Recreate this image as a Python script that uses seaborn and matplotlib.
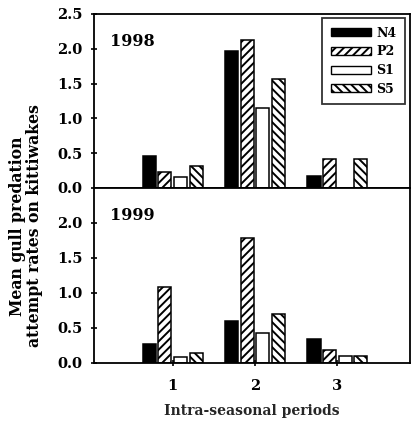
import numpy as np
import matplotlib
matplotlib.use('Agg')
import matplotlib.pyplot as plt
import matplotlib.patches as mpatches
import pandas as pd
import seaborn as sns

# values
periods = ['1', '2', '3']
colonies = ['N4', 'P2', 'S1', 'S5']
rates_1998 = {'N4': [0.46, 1.97, 0.17],
              'P2': [0.23, 2.12, 0.42],
              'S1': [0.16, 1.15, 0.0],
              'S5': [0.32, 1.56, 0.42]}
rates_1999 = {'N4': [0.27, 0.60, 0.34],
              'P2': [1.09, 1.79, 0.19],
              'S1': [0.09, 0.43, 0.10],
              'S5': [0.14, 0.70, 0.10]}
years = ['1998', '1999']

styles = {'N4': ('black', ''), 'P2': ('white', '////'),
          'S1': ('white', ''), 'S5': ('white', '\\\\\\\\')}

sns.set_style('ticks')
plt.rcParams['font.family'] = ['DejaVu Serif']
plt.rcParams['font.weight'] = 'bold'
plt.rcParams['text.color'] = 'black'
plt.rcParams['xtick.color'] = 'black'
plt.rcParams['ytick.color'] = 'black'
plt.rcParams['axes.edgecolor'] = 'black'
plt.rcParams['hatch.linewidth'] = 1.4
plt.rcParams['axes.linewidth'] = 1.3

fig = plt.figure(figsize=(4.12, 4.24), dpi=100)
ax1 = fig.add_axes([0.229, 0.557, 0.766, 0.410])
ax2 = fig.add_axes([0.229, 0.144, 0.766, 0.413])


def draw(ax, rates, year):
    df = pd.DataFrame([(p, c, rates[c][i]) for c in colonies
                       for i, p in enumerate(periods)],
                      columns=['period', 'colony', 'rate'])
    sns.barplot(data=df, x='period', y='rate', hue='colony', order=periods,
                hue_order=colonies, width=0.76, gap=0.16, legend=False,
                edgecolor='black', linewidth=1.1, ax=ax)
    for cont, c in zip(ax.containers, colonies):
        fc, h = styles[c]
        for bar in cont:
            bar.set_facecolor(fc)
            bar.set_hatch(h)
            bar.set_edgecolor('black')
    ax.set_ylim(0, 2.5)
    ax.set_xlim(-0.95, 2.88)
    ax.set_yticks([0, 0.5, 1.0, 1.5, 2.0, 2.5])
    ax.set_yticklabels(['0.0', '0.5', '1.0', '1.5', '2.0', '2.5'])
    ax.tick_params(axis='both', direction='inout', labelsize=10.5,
                   width=1.2, length=5, pad=6)
    ax.set_xlabel('')
    ax.set_ylabel('')
    ax.text(0.05, 0.84, year, transform=ax.transAxes, fontsize=11.5,
            fontweight='bold', va='center')
    for s in ax.spines.values():
        s.set_visible(True)


draw(ax1, rates_1998, years[0])
draw(ax2, rates_1999, years[1])

ax1.set_xticks([])
ax2.set_yticks([0, 0.5, 1.0, 1.5, 2.0])
ax2.set_yticklabels(['0.0', '0.5', '1.0', '1.5', '2.0'])
ax2.tick_params(axis='x', pad=9)
ax2.set_xlabel('Intra-seasonal periods', fontsize=10, fontweight='bold',
               labelpad=8)

fig.text(0.063, 0.467, 'Mean gull predation\nattempt rates on kittiwakes',
         rotation=90, ha='center', va='center', fontsize=11.3,
         fontweight='bold', linespacing=0.95)

handles = [mpatches.Patch(facecolor=styles[c][0], hatch=styles[c][1],
                          edgecolor='black', label=c) for c in colonies]
leg = ax1.legend(handles=handles, loc='upper right', fontsize=9,
                 frameon=True, fancybox=False, handlelength=3.2,
                 handleheight=0.6, labelspacing=0.45, borderpad=0.7,
                 handletextpad=0.4, borderaxespad=0,
                 bbox_to_anchor=(0.984, 0.977))
leg.get_frame().set_edgecolor('black')
leg.get_frame().set_linewidth(1.3)

fig.savefig('out.png', dpi=100)
